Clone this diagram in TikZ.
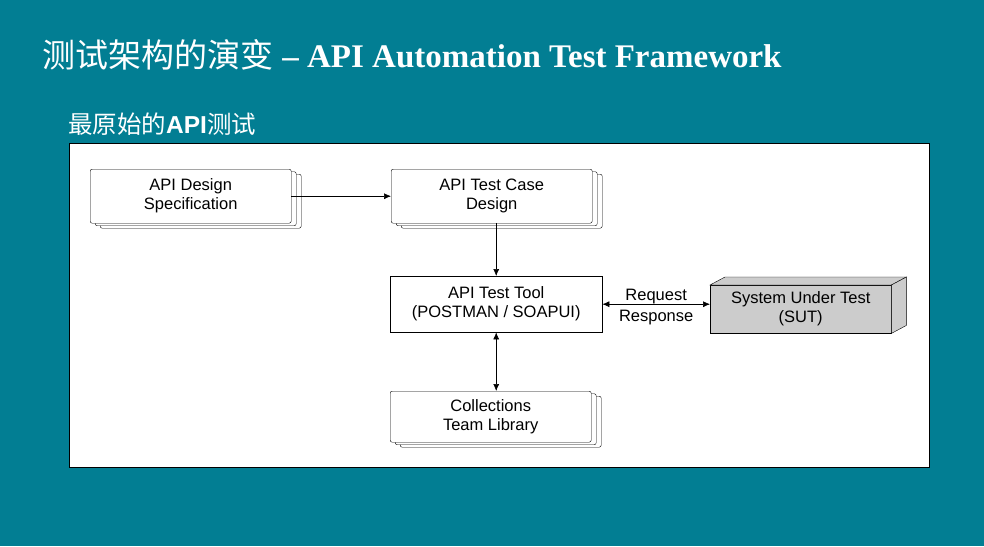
\documentclass[tikz,border=0pt]{standalone}
\usepackage{fontspec}
\setmainfont{Liberation Sans}
\newfontfamily\cjk{Noto Sans CJK SC}
\newfontfamily\tnr{Liberation Serif}
\usetikzlibrary{shadows,arrows.meta,calc}
\definecolor{bg}{HTML}{027E93}
\definecolor{sutgray}{HTML}{CCCCCC}
\begin{document}
\begin{tikzpicture}[x=1pt,y=-1pt,
  boxfont/.style={font=\fontsize{16.5}{19}\selectfont},
  stack/.style={draw, fill=white, rounded corners=2pt, minimum width=201pt, minimum height=54pt,
    align=center, boxfont, anchor=north west, inner sep=2pt,
    double copy shadow={shadow xshift=5pt, shadow yshift=-2.5pt}},
  plainbox/.style={draw, fill=white, minimum width=212pt, minimum height=56pt, align=center,
    boxfont, anchor=north west, inner sep=2pt},
  arr/.style={-{Latex[length=7pt,width=6pt]}, line width=0.6pt},
  darr/.style={{Latex[length=7pt,width=6pt]}-{Latex[length=7pt,width=6pt]}, line width=0.6pt},
  lbl/.style={boxfont, inner sep=1pt}]
\useasboundingbox (0,0) rectangle (984,546);
\fill[bg] (0,0) rectangle (984,546);
% titles
\node[anchor=base west, text=white, inner sep=0pt] (title) at (42,67)
  {\fontsize{33}{38}\selectfont{\cjk 测试架构的演变} {\tnr\bfseries – API Automation Test Framework}};
\node[anchor=base west, text=white, inner sep=0pt] (subtitle) at (68,133)
  {\fontsize{24.5}{28}\selectfont{\cjk 最原始的}{\bfseries API}{\cjk 测试}};
% panel
\node[draw=black, fill=white, minimum width=860pt, minimum height=324pt, anchor=north west, inner sep=0pt, line width=0.7pt] (panel) at (69,143) {};
% boxes
\node[stack] (spec) at (90,169) {API Design\\Specification};
\node[stack] (tc) at (391,169) {API Test Case\\Design};
\node[plainbox] (tool) at (390,276) {API Test Tool\\(POSTMAN / SOAPUI)};
\node[stack, minimum height=51pt] (coll) at (390,391) {Collections\\Team Library};
% SUT cuboid
\node[draw, fill=sutgray, minimum width=181pt, minimum height=48pt, anchor=north west, align=center, boxfont, inner sep=2pt] (sut) at (710,285) {System Under Test\\(SUT)};
\draw[fill=sutgray] (sut.north west) -- ++(15,-8) -- ($(sut.north east)+(15,-8)$) -- (sut.north east) -- cycle;
\draw[fill=sutgray] (sut.north east) -- ++(15,-8) -- ($(sut.south east)+(15,-8)$) -- (sut.south east) -- cycle;
% connectors
\draw[arr] (spec.east) -- (tc.west);
\draw[arr] (tool.north |- tc.south) -- (tool.north);
\draw[darr] (tool.east) -- (sut.west |- tool.east)
  node[midway, above=-1pt, lbl] (req) {Request}
  node[midway, below=4.5pt, lbl] (resp) {Response};
\draw[darr] (tool.south) -- (tool.south |- coll.north);
\end{tikzpicture}
\end{document}
